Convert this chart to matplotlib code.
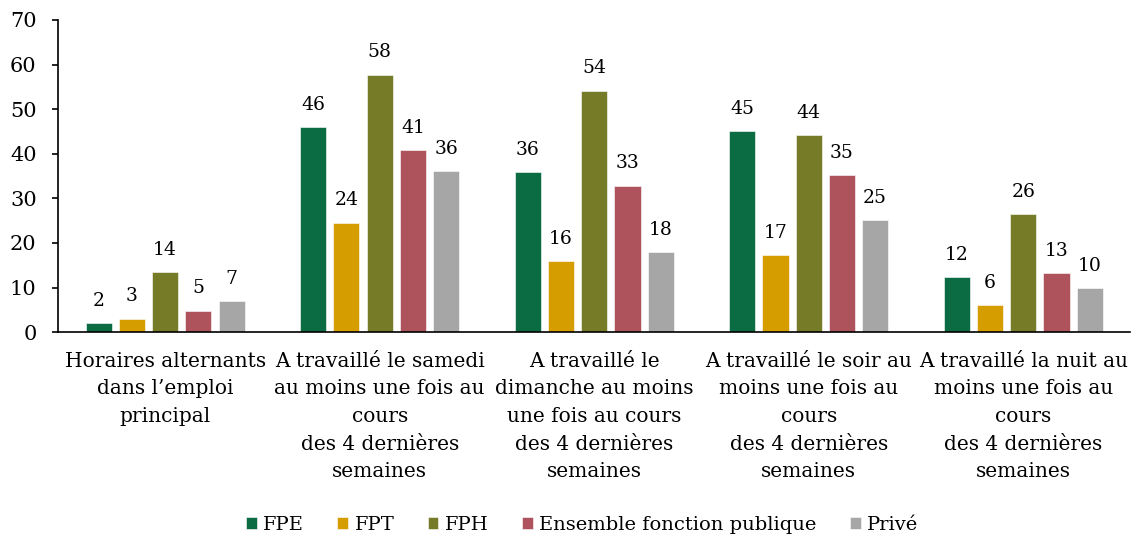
import matplotlib
matplotlib.use("Agg")
import matplotlib.pyplot as plt
import numpy as np

categories = [
    "Horaires alternants\ndans l’emploi\nprincipal",
    "A travaillé le samedi\nau moins une fois au\ncours\ndes 4 dernières\nsemaines",
    "A travaillé le\ndimanche au moins\nune fois au cours\ndes 4 dernières\nsemaines",
    "A travaillé le soir au\nmoins une fois au\ncours\ndes 4 dernières\nsemaines",
    "A travaillé la nuit au\nmoins une fois au\ncours\ndes 4 dernières\nsemaines",
]
series_names = ["FPE", "FPT", "FPH", "Ensemble fonction publique", "Privé"]
fpe = [2.0, 46.0, 35.9, 45.1, 12.3]
fpt = [3.0, 24.5, 15.9, 17.3, 6.1]
fph = [13.5, 57.7, 54.1, 44.2, 26.5]
ensemble = [4.8, 40.8, 32.8, 35.2, 13.2]
prive = [7.0, 36.1, 17.9, 25.1, 9.9]
colors = ["#0B6B43", "#D69D00", "#757B27", "#AE535C", "#A6A6A6"]
yticks = [0, 10, 20, 30, 40, 50, 60, 70]

plt.rcParams['font.family'] = ['DejaVu Serif']

fig = plt.figure(figsize=(11.35, 5.4), dpi=100)
ax = fig.add_axes([0.051, 0.385, 0.945, 0.578])

data = [fpe, fpt, fph, ensemble, prive]
x = np.arange(len(categories))
step = 0.155
width = 0.122
for i, (vals, name, c) in enumerate(zip(data, series_names, colors)):
    pos = x + (i - 2) * step
    ax.bar(pos, vals, width=width, color=c, edgecolor="white", linewidth=0.4, label=name)
    for xi, v in zip(pos, vals):
        ax.text(xi, v + 3.0, f"{round(v):d}", ha="center", va="bottom", fontsize=13.5)

ax.set_xlim(-0.5, 4.5)
ax.set_ylim(0, 70)
ax.set_yticks(yticks)
ax.tick_params(axis='y', labelsize=15, direction='out', length=4.3, width=1.2, pad=11)
ax.tick_params(axis='x', length=0, labelsize=14.5, pad=14)
ax.set_xticks(x)
ax.set_xticklabels(categories, linespacing=1.58)
for s in ["top", "right"]:
    ax.spines[s].set_visible(False)
ax.spines["left"].set_linewidth(1.2)
ax.spines["bottom"].set_linewidth(1.2)

leg = fig.legend(loc="center", bbox_to_anchor=(0.513, 0.028), ncol=5, frameon=False,
                 fontsize=14, handlelength=0.55, handleheight=0.55, columnspacing=1.7, handletextpad=0.35)

fig.savefig("out.png", dpi=100)
